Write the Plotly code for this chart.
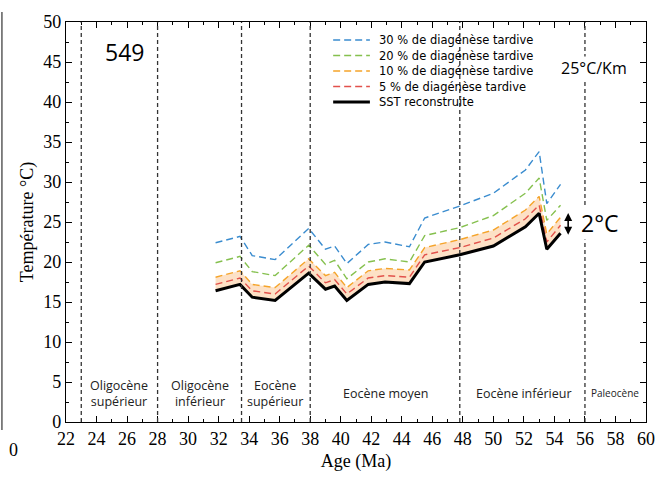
import plotly.graph_objects as go

# ── Data (site 549) ────────────────────────────────────────────────
AGE = [31.8, 33.4, 34.2, 35.7, 37.9, 39.0, 39.6, 40.4, 41.8, 42.9,
       44.5, 45.5, 47.8, 50.0, 52.1, 53.0, 53.5, 54.4]
SST = [16.4, 17.2, 15.6, 15.2, 18.6, 16.6, 17.0, 15.2, 17.2, 17.5,
       17.3, 20.0, 20.9, 22.0, 24.4, 26.1, 21.6, 23.6]
DIAG_5 = [17.2, 18.0, 16.4, 16.0, 19.5, 17.4, 17.8, 16.0, 18.0, 18.3,
          18.1, 20.9, 21.8, 23.0, 25.4, 27.1, 22.5, 24.6]
DIAG_10 = [18.1, 18.9, 17.2, 16.8, 20.4, 18.3, 18.7, 16.8, 18.9, 19.2,
           19.0, 21.8, 22.8, 24.0, 26.5, 28.2, 23.5, 25.6]
DIAG_20 = [19.9, 20.7, 18.8, 18.3, 22.1, 19.7, 20.2, 17.9, 20.0, 20.4,
           20.0, 23.3, 24.3, 25.8, 28.6, 30.5, 25.2, 27.1]
DIAG_30 = [22.4, 23.2, 20.8, 20.3, 24.2, 21.6, 22.0, 19.8, 22.2, 22.5,
           21.9, 25.5, 27.0, 28.6, 31.5, 33.8, 27.3, 29.7]

BOUNDARIES = [23, 28, 33.5, 38, 47.8, 56]
PERIOD_NAMES = ["Oligocène<br>supérieur", "Oligocène<br>inférieur",
                "Eocène<br>supérieur", "Eocène moyen", "Eocène inférieur"]
PERIOD_AGES = [25.5, 30.8, 35.7, 42.9, 52.0]

LEGEND_NAMES = ["30 % de diagénèse tardive", "20 % de diagénèse tardive",
                "10 % de diagénèse tardive", "5 % de diagénèse tardive",
                "SST reconstruite"]

SANS = "Open Sans"
SERIF = "Liberation Serif"
DASH = "7px,4px"
C30, C20, C10, C5 = "#3A8CCF", "#85C04E", "#F5A42A", "#E2514B"

W, H = 667, 483
ML, MR, MT, MB = 66, 17, 22, 61
PW, PH = W - ML - MR, H - MT - MB


def px(x):
    return (x - ML) / PW


def py(y):
    return (H - MB - y) / PH


fig = go.Figure()

fig.add_trace(go.Scatter(x=AGE, y=DIAG_30, mode="lines", name=LEGEND_NAMES[0],
                         line=dict(color=C30, width=1.4, dash=DASH)))
fig.add_trace(go.Scatter(x=AGE, y=DIAG_20, mode="lines", name=LEGEND_NAMES[1],
                         line=dict(color=C20, width=1.4, dash=DASH)))

# peach band between SST and the 10 % curve
fig.add_trace(go.Scatter(x=AGE, y=SST, mode="lines", line=dict(width=0),
                         hoverinfo="skip"))
fig.add_trace(go.Scatter(x=AGE, y=DIAG_10, mode="lines", line=dict(width=0),
                         fill="tonexty", fillcolor="rgba(251,205,160,0.6)",
                         hoverinfo="skip"))

fig.add_trace(go.Scatter(x=AGE, y=DIAG_10, mode="lines", name=LEGEND_NAMES[2],
                         line=dict(color=C10, width=1.4, dash=DASH)))
fig.add_trace(go.Scatter(x=AGE, y=DIAG_5, mode="lines", name=LEGEND_NAMES[3],
                         line=dict(color=C5, width=1.4, dash=DASH)))
fig.add_trace(go.Scatter(x=AGE, y=SST, mode="lines", name=LEGEND_NAMES[4],
                         line=dict(color="black", width=3)))

shapes = [dict(type="line", xref="x", yref="paper", x0=b, x1=b, y0=0, y1=1,
               line=dict(color="#333", width=1.3, dash="4px,3px"))
          for b in BOUNDARIES]
# edge of the neighbouring panel, cropped on the left
shapes.append(dict(type="line", xref="paper", yref="paper",
                   x0=px(1.5), x1=px(1.5), y0=py(430), y1=py(12),
                   line=dict(color="#333", width=1.2)))

annotations = [dict(x=a, y=3.6, xref="x", yref="y", text=t, showarrow=False,
                    font=dict(family=SANS, size=12.5, color="#222"))
               for t, a in zip(PERIOD_NAMES, PERIOD_AGES)]
annotations += [
    dict(x=58.0, y=3.6, xref="x", yref="y", text="Paleocène", showarrow=False,
         font=dict(family=SANS, size=10, color="#222")),
    dict(x=25.8, y=46.2, xref="x", yref="y", text="549", showarrow=False,
         font=dict(family=SANS, size=23, color="black")),
    dict(x=56.6, y=44.2, xref="x", yref="y", text="25°C/Km", showarrow=False,
         bgcolor="white", borderpad=0,
         font=dict(family=SANS, size=16, color="black")),
    dict(x=57.0, y=24.9, xref="x", yref="y", text="2°C", showarrow=False,
         bgcolor="white", borderpad=0,
         font=dict(family=SANS, size=23, color="black")),
    dict(x=54.9, y=23.4, ax=54.9, ay=26.3, xref="x", yref="y",
         axref="x", ayref="y", text="", showarrow=True, arrowhead=2,
         arrowside="end+start", arrowsize=1, arrowwidth=1.6,
         arrowcolor="black"),
    dict(x=px(7), y=py(462), xref="paper", yref="paper", text="0",
         showarrow=False, font=dict(family=SERIF, size=18, color="black")),
]

# hand-placed legend (rows ~15px apart, as in the reference)
leg_styles = [(C30, 1.6, DASH), (C20, 1.6, DASH), (C10, 1.6, DASH),
              (C5, 1.6, DASH), ("black", 3.2, "solid")]
for i, (name, (col, wd, ds)) in enumerate(zip(LEGEND_NAMES, leg_styles)):
    row = 40 + 15.5 * i
    shapes.append(dict(type="line", xref="paper", yref="paper",
                       x0=px(335), x1=px(372), y0=py(row), y1=py(row),
                       line=dict(color=col, width=wd, dash=ds)))
    annotations.append(dict(x=px(380), y=py(row), xref="paper", yref="paper",
                            xanchor="left", yanchor="middle", text=name,
                            showarrow=False, borderpad=0,
                            font=dict(family="DejaVu Sans", size=11.5,
                                      color="black")))

axis_common = dict(showline=True, linecolor="black", linewidth=1.2,
                   mirror="allticks", ticks="inside", ticklen=6,
                   tickcolor="black", showgrid=False, zeroline=False,
                   tickfont=dict(family=SERIF, size=18, color="black"))

fig.update_layout(
    width=W, height=H,
    margin=dict(l=ML, r=MR, t=MT, b=MB),
    plot_bgcolor="white", paper_bgcolor="white",
    showlegend=False,
    xaxis=dict(range=[22, 60], dtick=2, tick0=22,
               minor=dict(dtick=1, ticks="inside", ticklen=3,
                          tickcolor="black"),
               title=dict(text="Age (Ma)", standoff=6,
                          font=dict(family=SERIF, size=18, color="black")),
               **axis_common),
    yaxis=dict(range=[0, 50], dtick=5,
               minor=dict(dtick=2.5, ticks="inside", ticklen=3,
                          tickcolor="black"),
               title=dict(text="Température °C)", standoff=4,
                          font=dict(family=SERIF, size=18, color="black")),
               **axis_common),
    shapes=shapes,
    annotations=annotations,
)

# drop the page's default 8px body margin so the figure sits at (0, 0)
fig.write_html("out.html", config={"displayModeBar": False},
               post_script="document.body.style.margin='0';")
